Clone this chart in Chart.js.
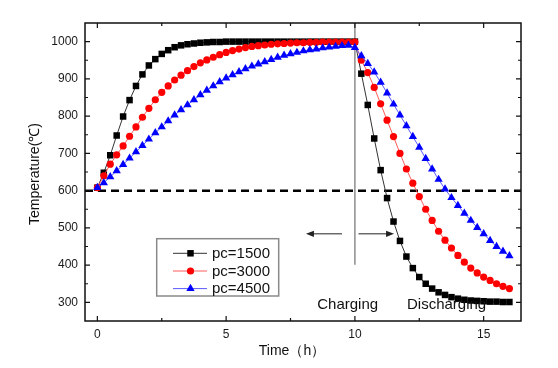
<!DOCTYPE html>
<html>
<head>
<meta charset="utf-8">
<script src="https://cdn.jsdelivr.net/npm/chart.js@4.4.0/dist/chart.umd.min.js"></script>
<style>
  html, body { margin: 0; padding: 0; background: #fff; }
  #wrap { width: 558px; height: 368px; }
</style>
</head>
<body>
<div id="wrap"><canvas id="tempChart" width="558" height="368"></canvas></div>
<script>
// sample times (h), every 0.25 h
const times = [
  0, 0.25, 0.5, 0.75, 1, 1.25, 1.5, 1.75, 2, 2.25, 2.5, 2.75, 3, 3.25, 3.5, 3.75,
  4, 4.25, 4.5, 4.75, 5, 5.25, 5.5, 5.75, 6, 6.25, 6.5, 6.75, 7, 7.25, 7.5, 7.75,
  8, 8.25, 8.5, 8.75, 9, 9.25, 9.5, 9.75, 10, 10.25, 10.5, 10.75, 11, 11.25, 11.5, 11.75,
  12, 12.25, 12.5, 12.75, 13, 13.25, 13.5, 13.75, 14, 14.25, 14.5, 14.75, 15, 15.25, 15.5, 15.75, 16
];

const pc1500 = [
  608, 648, 695, 748, 799, 843, 881, 912, 936, 953, 967, 977, 985, 990, 993, 995,
  997, 998, 999, 999, 1000, 1000, 1000, 1000, 1000, 1000, 1000, 1000, 1000, 1000, 1000, 1000,
  1000, 1000, 1000, 1000, 1000, 1000, 1000, 1000, 1000, 914, 830, 740, 655, 580, 517, 465,
  423, 392, 368, 350, 337, 327, 320, 314, 310, 307, 305, 304, 303, 302, 302, 301, 301
];

const pc3000 = [
  608, 640, 671, 696, 720, 746, 771, 797, 821, 844, 864, 881, 897, 910, 922, 933,
  943, 951, 958, 965, 971, 976, 980, 984, 987, 989, 991, 993, 994, 995, 996, 997,
  997, 998, 998, 999, 999, 999, 999, 999, 999, 950, 917, 877, 833, 789, 745, 700,
  658, 620, 584, 550, 520, 491, 467, 446, 426, 408, 392, 379, 368, 359, 350, 343, 337
];

const pc4500 = [
  608, 621, 637, 653, 670, 687, 704, 721, 738, 755, 771, 787, 803, 817, 830, 844,
  857, 869, 881, 892, 902, 911, 919, 927, 934, 940, 946, 952, 958, 963, 967, 971,
  975, 978, 980, 983, 985, 987, 989, 990, 984, 962, 941, 918, 891, 862, 832, 803,
  774, 745, 716, 686, 658, 630, 604, 581, 560, 539, 520, 501, 484, 466, 450, 437, 425
];

const seriesLabels = ['pc=1500', 'pc=3000', 'pc=4500'];
const xTicks = [0, 5, 10, 15];
const yTicks = [300, 400, 500, 600, 700, 800, 900, 1000];
const baseTemp = 600;
const switchTime = 10;

const FONT = '"Liberation Sans", Arial, sans-serif';

const toPoints = vals => vals.map((v, i) => ({ x: times[i], y: v }));

const styles = [
  { line: '#333333', fill: '#000000', point: 'rect', radius: 4.6 },
  { line: '#ff5a5a', fill: '#ff0000', point: 'circle', radius: 3.6 },
  { line: '#5a5aff', fill: '#0000ff', point: 'triangle', radius: 4.8 }
];

const seriesData = [pc1500, pc3000, pc4500];

const datasets = seriesData.map((vals, i) => ({
  label: seriesLabels[i],
  data: toPoints(vals),
  borderColor: styles[i].line,
  borderWidth: 1,
  backgroundColor: styles[i].fill,
  pointBackgroundColor: styles[i].fill,
  pointBorderColor: styles[i].fill,
  pointBorderWidth: 0,
  pointStyle: styles[i].point,
  pointRadius: styles[i].radius,
  tension: 0,
  order: 2 - i
}));

// reference lines
datasets.push({
  label: 'base',
  data: [{ x: -0.48, y: baseTemp }, { x: 16.45, y: baseTemp }],
  borderColor: '#000',
  borderWidth: 2.5,
  borderDash: [8, 5],
  pointRadius: 0,
  order: 5
});
datasets.push({
  label: 'switch',
  data: [{ x: switchTime, y: 401 }, { x: switchTime, y: 1050 }],
  borderColor: '#8c8c8c',
  borderWidth: 1.5,
  pointRadius: 0,
  order: 6
});

function arrow(ctx, x1, y1, x2, y2) {
  const dir = Math.sign(x2 - x1);
  ctx.beginPath();
  ctx.moveTo(x1, y1);
  ctx.lineTo(x2 - dir * 6, y2);
  ctx.stroke();
  ctx.beginPath();
  ctx.moveTo(x2, y2);
  ctx.lineTo(x2 - dir * 8, y2 - 3.2);
  ctx.lineTo(x2 - dir * 8, y2 + 3.2);
  ctx.closePath();
  ctx.fill();
}

const decorations = {
  id: 'decorations',
  afterDatasetsDraw(chart) {
    const { ctx, chartArea: a, scales: { x, y } } = chart;
    ctx.save();

    // frame
    ctx.strokeStyle = '#111';
    ctx.lineWidth = 1.5;
    ctx.strokeRect(a.left, a.top, a.right - a.left, a.bottom - a.top);

    // inward ticks on all four sides
    ctx.lineWidth = 1.2;
    for (let v = 0; v <= 16; v += 2.5) {
      const px = x.getPixelForValue(v);
      const len = v % 5 === 0 ? 5 : 3;
      ctx.beginPath();
      ctx.moveTo(px, a.bottom); ctx.lineTo(px, a.bottom - len);
      ctx.moveTo(px, a.top); ctx.lineTo(px, a.top + len);
      ctx.stroke();
    }
    for (let v = 300; v <= 1000; v += 50) {
      const py = y.getPixelForValue(v);
      const len = v % 100 === 0 ? 5 : 3;
      ctx.beginPath();
      ctx.moveTo(a.left, py); ctx.lineTo(a.left + len, py);
      ctx.moveTo(a.right, py); ctx.lineTo(a.right - len, py);
      ctx.stroke();
    }

    // arrows around the switch line
    ctx.strokeStyle = '#222';
    ctx.fillStyle = '#222';
    ctx.lineWidth = 1;
    const ay = y.getPixelForValue(484);
    arrow(ctx, x.getPixelForValue(9.5), ay, x.getPixelForValue(8.1), ay);
    arrow(ctx, x.getPixelForValue(10.14), ay, x.getPixelForValue(11.52), ay);

    // phase labels
    ctx.fillStyle = '#111';
    ctx.font = '15px ' + FONT;
    ctx.textAlign = 'center';
    ctx.textBaseline = 'middle';
    ctx.fillText('Charging', x.getPixelForValue(9.72), y.getPixelForValue(292));
    ctx.fillText('Discharging', x.getPixelForValue(13.56), y.getPixelForValue(292));

    // legend box
    const lx = 156.7, ly = 238.7, lw = 122, lh = 57.3;
    ctx.fillStyle = '#fff';
    ctx.fillRect(lx, ly, lw, lh);
    ctx.strokeStyle = '#8a8a8a';
    ctx.lineWidth = 1.5;
    ctx.strokeRect(lx, ly, lw, lh);
    const rows = [253.3, 271, 288.6];
    seriesLabels.forEach((lab, i) => {
      const st = styles[i];
      ctx.strokeStyle = st.line;
      ctx.lineWidth = 1;
      ctx.beginPath();
      ctx.moveTo(173, rows[i]); ctx.lineTo(207, rows[i]);
      ctx.stroke();
      ctx.fillStyle = st.fill;
      ctx.strokeStyle = st.fill;
      Chart.helpers.drawPoint(ctx, { pointStyle: st.point, radius: st.radius, rotation: 0, borderWidth: 0 }, 190.5, rows[i]);
      ctx.fillStyle = '#111';
      ctx.font = '15px ' + FONT;
      ctx.textAlign = 'left';
      ctx.textBaseline = 'middle';
      ctx.fillText(lab, 212, rows[i] + 0.5);
    });

    // axis titles
    ctx.fillStyle = '#111';
    ctx.font = '14px ' + FONT;
    ctx.textAlign = 'center';
    ctx.textBaseline = 'middle';
    ctx.fillText('Time（h）', 292, 351);
    ctx.translate(35, 174);
    ctx.rotate(-Math.PI / 2);
    ctx.fillText('Temperature(℃)', 0, 0);

    ctx.restore();
  }
};

new Chart(document.getElementById('tempChart'), {
  type: 'line',
  data: { datasets },
  options: {
    responsive: false,
    animation: false,
    devicePixelRatio: 1,
    layout: { padding: { left: 0, right: 37, top: 23, bottom: 0 } },
    plugins: {
      legend: { display: false },
      tooltip: { enabled: false }
    },
    scales: {
      x: {
        type: 'linear',
        min: -0.48,
        max: 16.45,
        afterBuildTicks: s => { s.ticks = xTicks.map(v => ({ value: v })); },
        afterFit: s => { s.height = 47; },
        grid: { display: false, drawTicks: false },
        border: { display: false },
        ticks: { padding: 6, color: '#1a1a1a', font: { family: FONT, size: 12 }, maxRotation: 0, callback: v => String(v) }
      },
      y: {
        min: 250,
        max: 1050,
        afterBuildTicks: s => { s.ticks = yTicks.map(v => ({ value: v })); },
        afterFit: s => { s.width = 85; },
        grid: { display: false, drawTicks: false },
        border: { display: false },
        ticks: { padding: 7, color: '#1a1a1a', font: { family: FONT, size: 12 }, callback: v => String(v) }
      }
    }
  },
  plugins: [decorations]
});
</script>
</body>
</html>
